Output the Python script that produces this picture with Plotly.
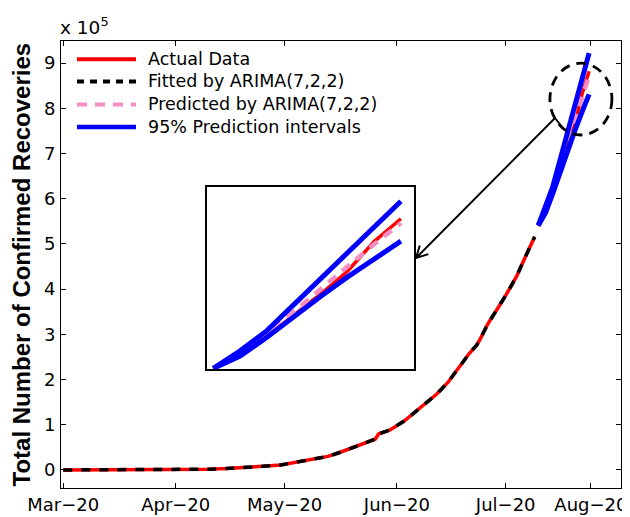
import math
import plotly.graph_objects as go

# ---------------- data (values in units of 10^5) ----------------
# day index counted from 1 March 2020
train_days = [0, 10, 20, 30, 36, 40, 45, 50, 55, 60, 63, 66, 70, 73, 76, 80, 83, 86, 87,
              90, 94, 97, 100, 103, 106, 109, 112, 114, 115, 117, 119, 120, 122, 125, 127, 130]
actual_train = [0.00, 0.00, 0.00, 0.004, 0.01, 0.015, 0.03, 0.05, 0.08, 0.11, 0.15, 0.19, 0.25,
                0.30, 0.38, 0.50, 0.59, 0.68, 0.80, 0.88, 1.08, 1.28, 1.48, 1.68, 1.93, 2.27,
                2.58, 2.76, 2.90, 3.22, 3.46, 3.60, 3.86, 4.28, 4.64, 5.16]
fitted_train = [0.00, 0.00, 0.00, 0.004, 0.01, 0.015, 0.03, 0.05, 0.08, 0.11, 0.15, 0.19, 0.25,
                0.30, 0.38, 0.50, 0.59, 0.68, 0.80, 0.88, 1.08, 1.28, 1.48, 1.68, 1.93, 2.27,
                2.58, 2.76, 2.90, 3.22, 3.46, 3.60, 3.86, 4.28, 4.64, 5.16]

test_days = [131, 133, 135, 137, 139, 141, 143, 145]
actual_test = [5.40, 5.70, 6.14, 6.62, 7.10, 7.62, 8.30, 8.82]
predicted = [5.41, 5.75, 6.19, 6.71, 7.22, 7.74, 8.24, 8.72]
upper95 = [5.41, 5.81, 6.27, 6.86, 7.43, 8.01, 8.61, 9.22]
lower95 = [5.41, 5.69, 6.12, 6.59, 7.05, 7.49, 7.91, 8.31]

tick_days = [0, 31, 61, 92, 122, 145.5]
tick_labels = ["Mar\u221220", "Apr\u221220", "May\u221220", "Jun\u221220", "Jul\u221220", "Aug\u221220"]
y_ticks = list(range(0, 10))

legend_labels = ["Actual Data", "Fitted by ARIMA(7,2,2)", "Predicted by ARIMA(7,2,2)",
                 "95% Prediction intervals"]

# ---------------- styling ----------------
RED = "#FF0000"
BLACK = "#000000"
PINK = "#F58EC3"
BLUE = "#0000FF"
FONT = "DejaVu Sans"

# page has an 8px body margin, so the figure is 8px smaller than the window
W, H = 622, 509
ML, MR, MT, MB = 53, 9, 33, 29
PW, PH = W - ML - MR, H - MT - MB
OFF = 8


def px(xp):
    """window pixel x -> paper x"""
    return (xp - OFF - ML) / PW


def py(yp):
    """window pixel y -> paper y"""
    return (H - MB - (yp - OFF)) / PH


fig = go.Figure()

actual_x = train_days + [None] + test_days
actual_y = actual_train + [None] + actual_test

for xa, ya in (("x", "y"), ("x2", "y2")):
    fig.add_trace(go.Scatter(x=actual_x, y=actual_y, mode="lines", name=legend_labels[0],
                             line=dict(color=RED, width=3.5), xaxis=xa, yaxis=ya,
                             showlegend=False))
    fig.add_trace(go.Scatter(x=train_days, y=fitted_train, mode="lines", name=legend_labels[1],
                             line=dict(color=BLACK, width=3.5, dash="9px,9px"), xaxis=xa,
                             yaxis=ya, showlegend=False))
    fig.add_trace(go.Scatter(x=test_days, y=predicted, mode="lines", name=legend_labels[2],
                             line=dict(color=PINK, width=4.5, dash="10px,8px"), xaxis=xa,
                             yaxis=ya, showlegend=False))
    fig.add_trace(go.Scatter(x=test_days, y=upper95, mode="lines", name=legend_labels[3],
                             line=dict(color=BLUE, width=5), xaxis=xa, yaxis=ya,
                             showlegend=False))
    fig.add_trace(go.Scatter(x=test_days, y=lower95, mode="lines", name=legend_labels[3],
                             line=dict(color=BLUE, width=5), xaxis=xa, yaxis=ya,
                             showlegend=False))

axis_common = dict(showline=True, linecolor="black", linewidth=1, mirror="ticks",
                   ticks="inside", ticklen=5, tickcolor="black", showgrid=False,
                   zeroline=False, automargin=False,
                   tickfont=dict(family=FONT, size=18, color="black"))

fig.update_layout(
    width=W, height=H,
    margin=dict(l=ML, r=MR, t=MT, b=MB, autoexpand=False),
    paper_bgcolor="white", plot_bgcolor="white",
    showlegend=False,
    xaxis=dict(range=[-0.63, 153.8], tickvals=tick_days, ticktext=tick_labels, **axis_common),
    yaxis=dict(range=[-0.4, 9.49], tickvals=y_ticks, ticktext=[str(v) for v in y_ticks],
               ticklabelstandoff=1, **axis_common),
    xaxis2=dict(domain=[px(207.3), px(414.3)], anchor="y2", range=[130.55, 146.0],
                showline=True, linecolor="black", linewidth=2, mirror=True, automargin=False,
                showticklabels=False, ticks="", showgrid=False, zeroline=False),
    yaxis2=dict(domain=[py(369.3), py(186.7)], anchor="x2", range=[5.39, 9.55],
                showline=True, linecolor="black", linewidth=2, mirror=True, automargin=False,
                showticklabels=False, ticks="", showgrid=False, zeroline=False),
)

shapes = []
annotations = []

# manual legend
leg_y = [59.3, 81.5, 104.5, 127.0]
leg_style = [dict(color=RED, width=4), dict(color=BLACK, width=4, dash="7px,6px"),
             dict(color=PINK, width=4, dash="10px,8px"), dict(color=BLUE, width=4.5)]
for lab, yy, st in zip(legend_labels, leg_y, leg_style):
    shapes.append(dict(type="line", xref="paper", yref="paper", x0=px(77), x1=px(136),
                       y0=py(yy), y1=py(yy), line=st))
    annotations.append(dict(text=lab, xref="paper", yref="paper", x=px(146), y=py(yy - 0.5),
                            xanchor="left", yanchor="middle", showarrow=False,
                            font=dict(family=FONT, size=17.5, color="black")))

# dashed circle around the forecast end
shapes.append(dict(type="circle", xref="x", yref="y", x0=134.2, x1=151.3, y0=7.41, y1=9.0,
                   line=dict(color="black", width=2.8, dash="10px,7px")))

# arrow from circle to inset (pixel geometry converted to paper coords)
kink = (562.0, 127.0)
tail = (555.0, 118.0)
tip = (416.0, 258.0)
dx, dy = tail[0] - tip[0], tail[1] - tip[1]
L = math.hypot(dx, dy)
ux, uy = dx / L, dy / L
head_len, ang = 13.0, math.radians(28)
arms = []
for s in (1, -1):
    c, sn = math.cos(s * ang), math.sin(s * ang)
    arms.append((tip[0] + head_len * (ux * c - uy * sn), tip[1] + head_len * (ux * sn + uy * c)))

path = (f"M{px(kink[0])},{py(kink[1])} L{px(tail[0])},{py(tail[1])} L{px(tip[0])},{py(tip[1])} "
        f"M{px(arms[0][0])},{py(arms[0][1])} L{px(tip[0])},{py(tip[1])} "
        f"L{px(arms[1][0])},{py(arms[1][1])}")
shapes.append(dict(type="path", xref="paper", yref="paper", path=path,
                   line=dict(color="black", width=2)))

# exponent label
annotations.append(dict(text="x 10<sup>5</sup>", xref="paper", yref="paper", x=px(58),
                        y=1.0, xanchor="left", yanchor="bottom", yshift=1, showarrow=False,
                        font=dict(family=FONT, size=18.5, color="black")))

# y axis title
annotations.append(dict(text="<b>Total Number of Confirmed Recoveries</b>", xref="paper",
                        yref="paper", x=px(21), y=0.5, xanchor="center", yanchor="middle",
                        textangle=-90, showarrow=False,
                        font=dict(family="Liberation Sans", size=24, color="black")))

fig.update_layout(shapes=shapes, annotations=annotations)

fig.write_html("out.html")
